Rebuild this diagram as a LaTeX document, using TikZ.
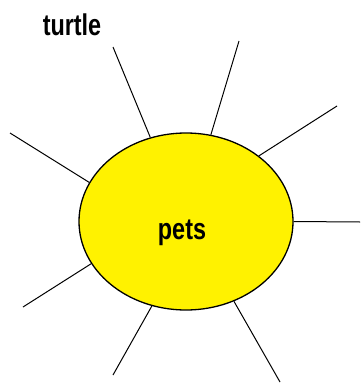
\documentclass[tikz,border=0pt]{standalone}
\usepackage{fontspec}
\setmainfont{Liberation Sans}
\usetikzlibrary{shapes.geometric}
\tikzset{
  bubble/.style={ellipse, draw=black, fill=yellow, line width=1.3pt, minimum width=214pt, minimum height=177pt, inner sep=0pt},
  spoke/.style={draw=black, line width=1pt},
  word/.style={font=\bfseries\fontsize{30}{30}\selectfont, inner sep=0pt, anchor=base}
}
\newcommand{\narrow}[1]{\scalebox{0.78}[1]{#1}}
\begin{document}
\begin{tikzpicture}[x=1pt,y=-1pt]
\useasboundingbox (0,0) rectangle (360,383);
\node[bubble] (p) at (186,221.5) {};
\node[word] (pl) at (182,239) {\narrow{pets}};
\node[word] (t) at (72,35) {\narrow{turtle}};
\coordinate (c1) at (113,47);
\coordinate (c2) at (239,41);
\coordinate (c3) at (337,106);
\coordinate (c4) at (360,222);
\coordinate (c5) at (280,382);
\coordinate (c6) at (113,375);
\coordinate (c7) at (23,307);
\coordinate (c8) at (10,133);
\draw[spoke] (p.113.6) -- (c1);
\draw[spoke] (p.74.2) -- (c2);
\draw[spoke] (p.42.7) -- (c3);
\draw[spoke] (p.0) -- (c4);
\draw[spoke] (p.-59.2) -- (c5);
\draw[spoke] (p.-112) -- (c6);
\draw[spoke] (p.-156.3) -- (c7);
\draw[spoke] (p.158.4) -- (c8);
\end{tikzpicture}
\end{document}
